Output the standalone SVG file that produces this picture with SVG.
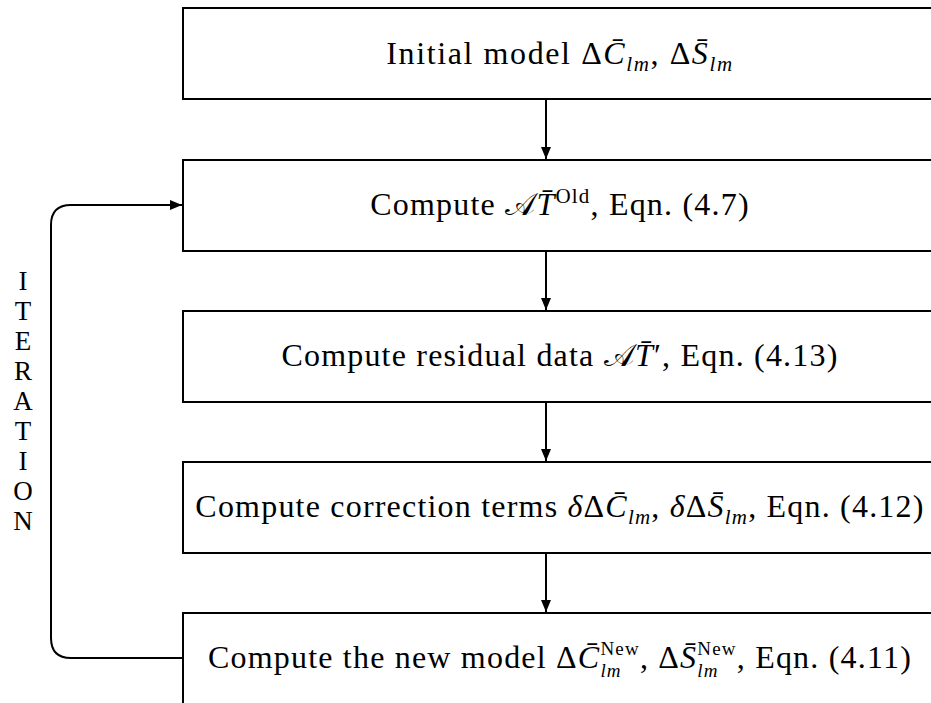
<svg xmlns="http://www.w3.org/2000/svg" width="931" height="703" viewBox="0 0 931 703">
<style>
.box{fill:#fff;stroke:#000;stroke-width:2}
.t{font-family:"Liberation Serif","DejaVu Serif",serif;font-size:32px;letter-spacing:1.2px;fill:#000}
.v{font-family:"Liberation Serif","DejaVu Serif",serif;font-size:27px;fill:#000}
.i{font-style:italic}
.s{font-size:21px}
.ss{font-size:19px}
.c{fill:none;stroke:#000;stroke-width:2}
</style>
<defs>
<marker id="ah" viewBox="0 0 12 10" refX="12" refY="5" markerWidth="12" markerHeight="10" markerUnits="userSpaceOnUse" orient="auto">
<path d="M0,0 L12,5 L0,10 Z" fill="#000"/>
</marker>
</defs>
<rect width="931" height="703" fill="#fff"/>
<g id="connectors">
<line class="c" x1="546" y1="99" x2="546" y2="159" marker-end="url(#ah)"/>
<line class="c" x1="546" y1="251" x2="546" y2="310" marker-end="url(#ah)"/>
<line class="c" x1="546" y1="402" x2="546" y2="461" marker-end="url(#ah)"/>
<line class="c" x1="546" y1="553" x2="546" y2="612" marker-end="url(#ah)"/>
<path class="c" d="M183,658 H71 Q51,658 51,638 V225 Q51,205 71,205 H182" marker-end="url(#ah)"/>
</g>
<g id="n1">
<rect class="box" x="183" y="8" width="780" height="91"/>
<text class="t" x="560" y="64" text-anchor="middle" style="letter-spacing:1.6px">Initial model Δ<tspan class="i">C̄</tspan><tspan class="i s" dy="7">lm</tspan><tspan dy="-7">, Δ</tspan><tspan class="i">S̄</tspan><tspan class="i s" dy="7">lm</tspan></text>
</g>
<g id="n2">
<rect class="box" x="183" y="160" width="780" height="91"/>
<text class="t" x="560" y="215" text-anchor="middle">Compute 𝒜<tspan class="i">T̄</tspan><tspan class="s" dy="-12">Old</tspan><tspan dy="12">, Eqn. (4.7)</tspan></text>
</g>
<g id="n3">
<rect class="box" x="183" y="311" width="780" height="91"/>
<text class="t" x="560" y="366" text-anchor="middle">Compute residual data 𝒜<tspan class="i">T̄</tspan>′, Eqn. (4.13)</text>
</g>
<g id="n4">
<rect class="box" x="183" y="462" width="780" height="91"/>
<text class="t" x="560" y="517" text-anchor="middle">Compute correction terms <tspan class="i">δ</tspan>Δ<tspan class="i">C̄</tspan><tspan class="i s" dy="7">lm</tspan><tspan dy="-7">, </tspan><tspan class="i">δ</tspan>Δ<tspan class="i">S̄</tspan><tspan class="i s" dy="7">lm</tspan><tspan dy="-7">, Eqn. (4.12)</tspan></text>
</g>
<g id="n5">
<rect class="box" x="183" y="613" width="780" height="91"/>
<text class="t" x="560" y="668" text-anchor="middle">Compute the new model Δ<tspan class="i">C̄</tspan><tspan class="ss" dy="-13">New</tspan><tspan class="i ss" dx="-39.5" dy="22">lm</tspan><tspan dx="18.1" dy="-9">, Δ</tspan><tspan class="i">S̄</tspan><tspan class="ss" dy="-13">New</tspan><tspan class="i ss" dx="-39.5" dy="22">lm</tspan><tspan dx="18.1" dy="-9">, Eqn. (4.11)</tspan></text>
</g>
<g id="label">
<text class="v" text-anchor="middle"><tspan x="23" y="290">I</tspan><tspan x="23" y="320">T</tspan><tspan x="23" y="350">E</tspan><tspan x="23" y="380">R</tspan><tspan x="23" y="410">A</tspan><tspan x="23" y="440">T</tspan><tspan x="23" y="470">I</tspan><tspan x="23" y="500">O</tspan><tspan x="23" y="530">N</tspan></text>
</g>
</svg>
